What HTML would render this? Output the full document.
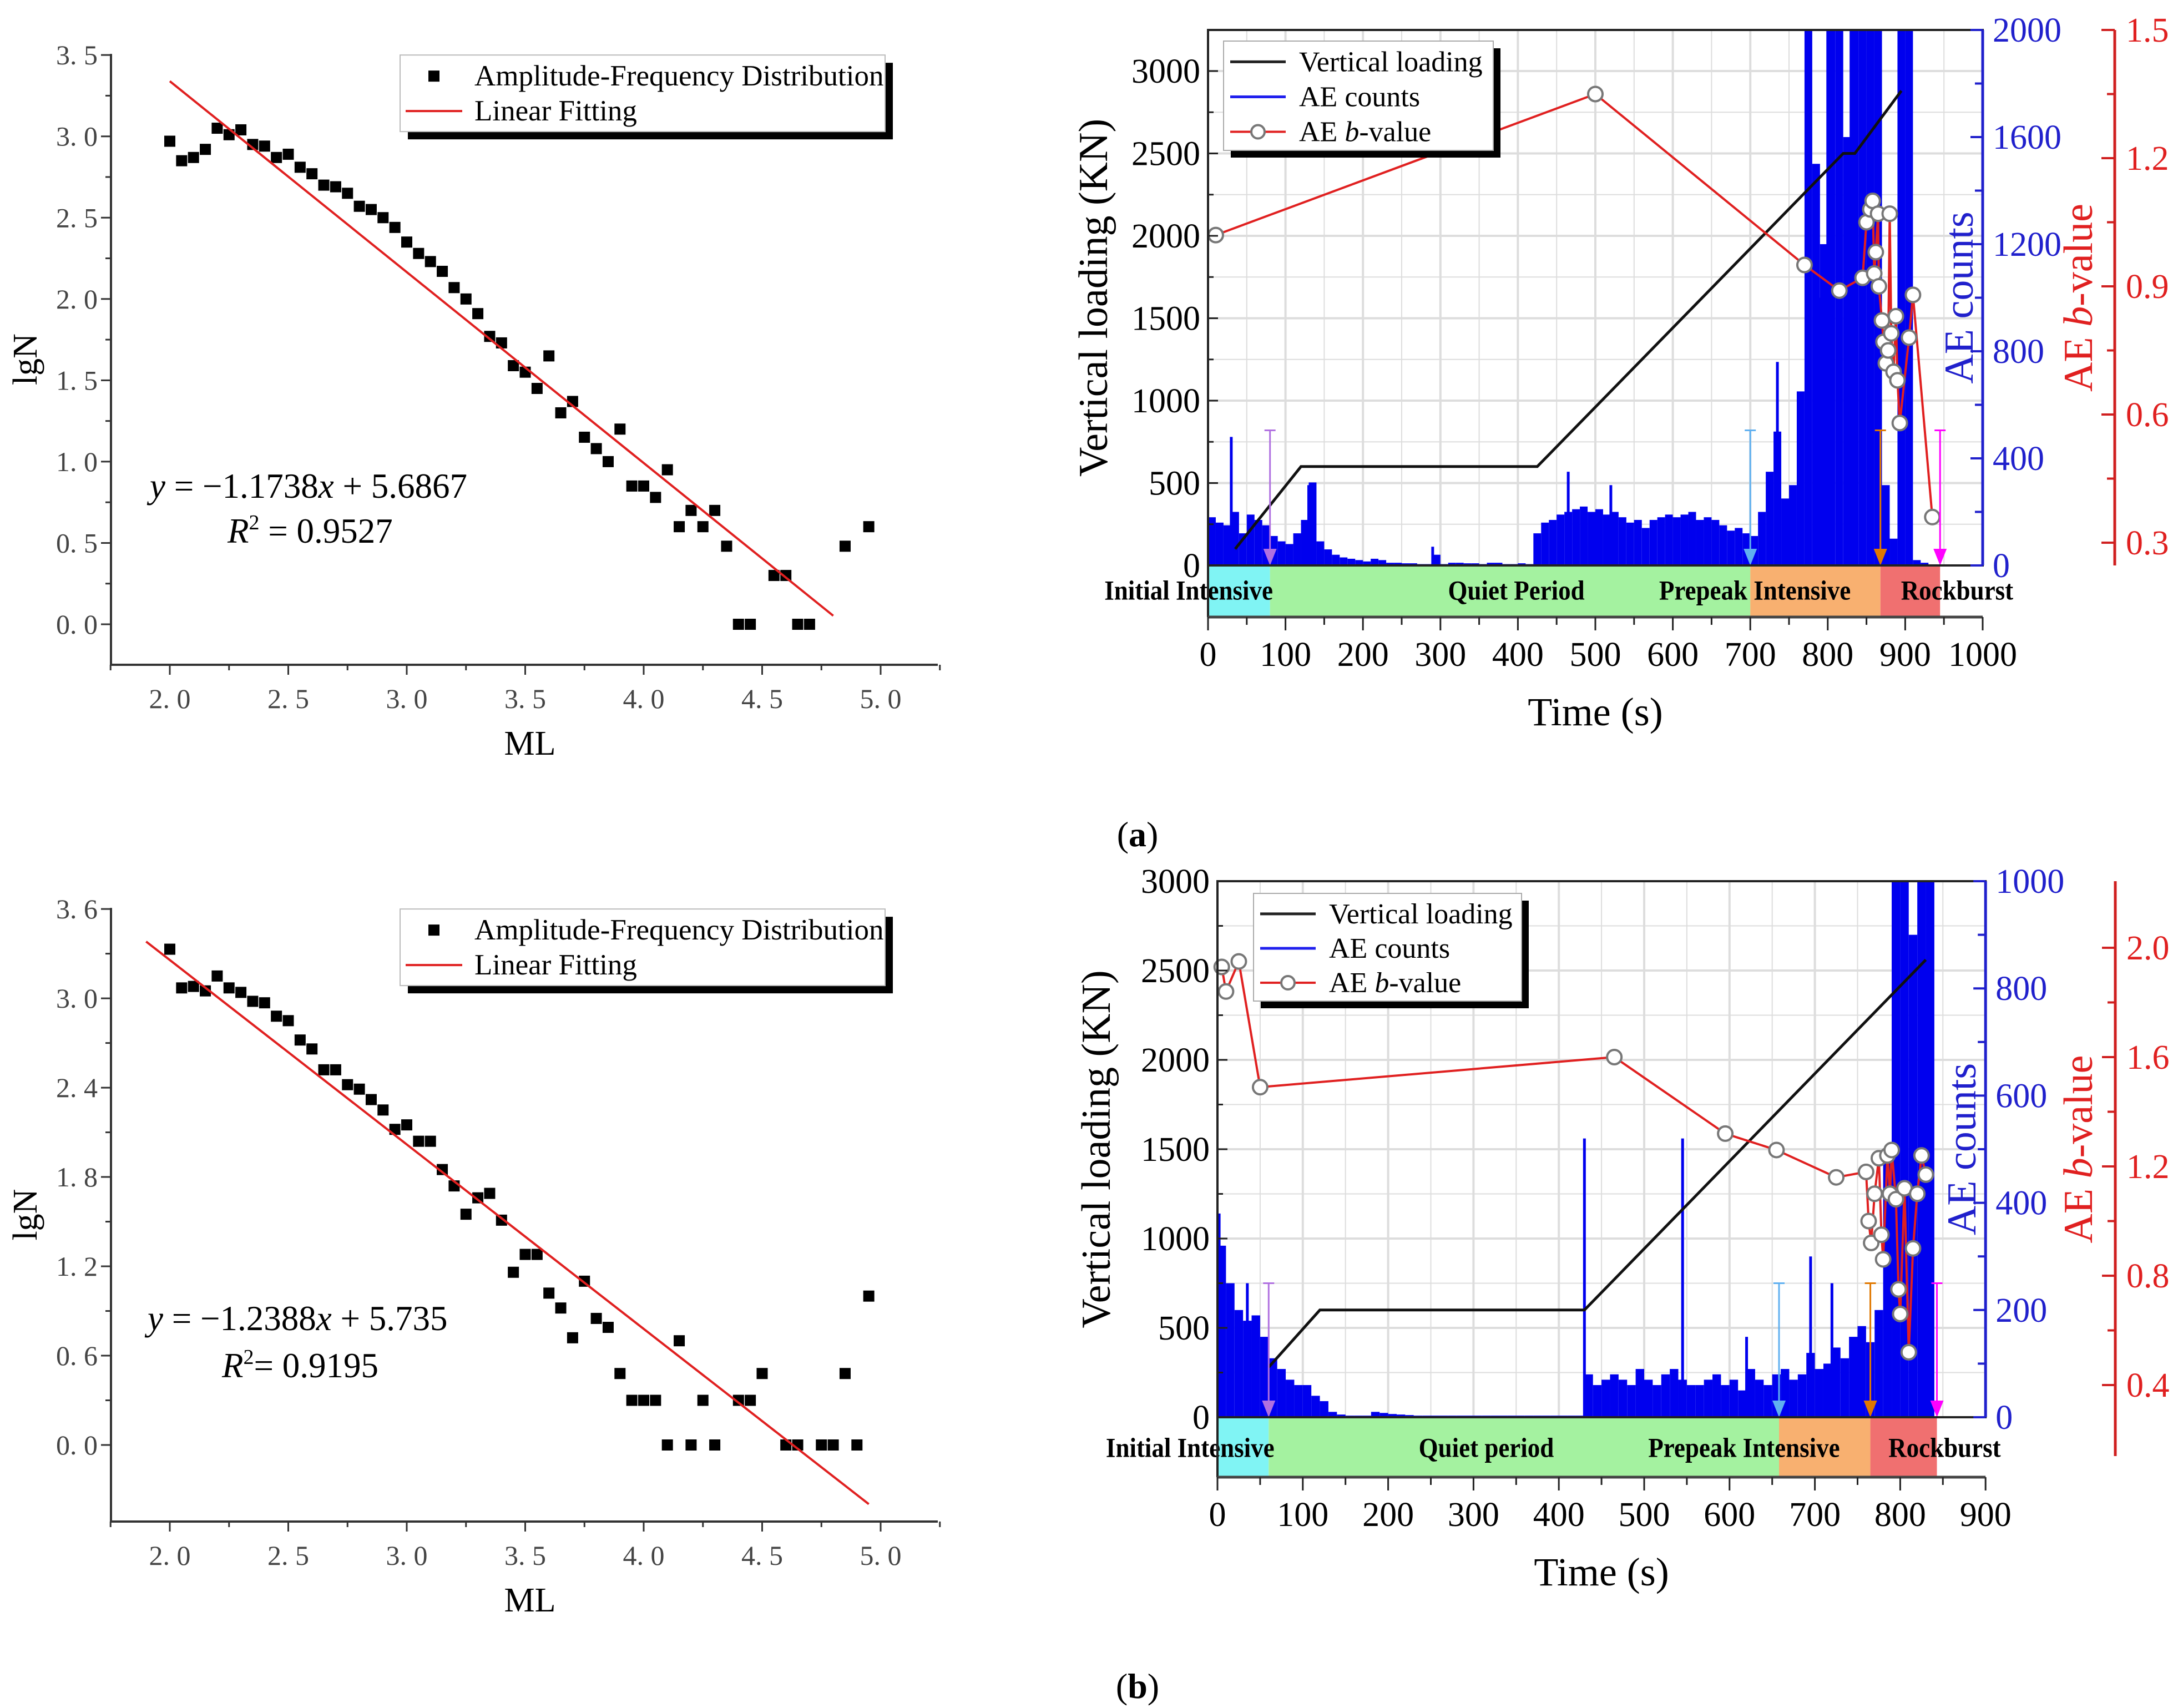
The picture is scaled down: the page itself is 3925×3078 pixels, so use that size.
<!DOCTYPE html>
<html><head><meta charset="utf-8"><style>
html,body{margin:0;padding:0;background:#fff}
svg{display:block}
text{font-family:"Liberation Serif",serif}
</style></head><body>
<svg id="s" xmlns="http://www.w3.org/2000/svg" width="3925" height="3078" viewBox="0 0 3925 3078">
<rect width="3925" height="3078" fill="#fff"/>
<text x="2050" y="1525" font-size="64" text-anchor="middle">(<tspan font-weight="bold">a</tspan>)</text>
<text x="2050" y="3060" font-size="64" text-anchor="middle">(<tspan font-weight="bold">b</tspan>)</text>
</svg>
<script>
const NS='http://www.w3.org/2000/svg';
const svg=document.getElementById('s');
// ---- data ----
const mlA=[2.00,2.05,2.10,2.15,2.20,2.25,2.30,2.35,2.40,2.45,2.50,2.55,2.60,2.65,2.70,2.75,2.80,2.85,2.90,2.95,3.00,3.05,3.10,3.15,3.20,3.25,3.30,3.35,3.40,3.45,3.50,3.55,3.60,3.65,3.70,3.75,3.80,3.85,3.90,3.95,4.00,4.05,4.10,4.15,4.20,4.25,4.30,4.35,4.40,4.45,4.55,4.60,4.65,4.70,4.85,4.95];
const lgA=[2.97,2.85,2.87,2.92,3.05,3.01,3.04,2.95,2.94,2.87,2.89,2.81,2.77,2.70,2.69,2.65,2.57,2.55,2.50,2.44,2.35,2.28,2.23,2.17,2.07,2.00,1.91,1.77,1.73,1.59,1.55,1.45,1.65,1.30,1.37,1.15,1.08,1.00,1.20,0.85,0.85,0.78,0.95,0.60,0.70,0.60,0.70,0.48,0,0,0.30,0.30,0,0,0.48,0.60];
const fitA=[-1.1738,5.6867,2.0,4.8];
const mlB=[2.00,2.05,2.10,2.15,2.20,2.25,2.30,2.35,2.40,2.45,2.50,2.55,2.60,2.65,2.70,2.75,2.80,2.85,2.90,2.95,3.00,3.05,3.10,3.15,3.20,3.25,3.30,3.35,3.40,3.45,3.50,3.55,3.60,3.65,3.70,3.75,3.80,3.85,3.90,3.95,4.00,4.05,4.10,4.15,4.20,4.25,4.30,4.40,4.45,4.50,4.60,4.65,4.75,4.80,4.85,4.90,4.95];
const lgB=[3.33,3.07,3.08,3.05,3.15,3.07,3.04,2.98,2.97,2.88,2.85,2.72,2.66,2.52,2.52,2.42,2.39,2.32,2.25,2.12,2.15,2.04,2.04,1.85,1.74,1.55,1.66,1.69,1.51,1.16,1.28,1.28,1.02,0.92,0.72,1.10,0.85,0.79,0.48,0.30,0.30,0.30,0,0.70,0,0.30,0,0.30,0.30,0.48,0,0,0,0,0.48,0,1.00];
const fitB=[-1.2388,5.735,1.9,4.95];
// chart (a) time series
const countsA=[180,160,150,200,120,190,170,150,110,90,80,120,170,310,90,60,40,30,25,20,15,25,20,10,10,8,8,5,5,40,5,10,10,8,8,5,10,10,5,5,8,5,120,160,170,190,200,210,220,200,210,190,200,180,160,170,140,170,180,190,180,190,200,170,180,170,150,130,140,120,110,200,350,500,250,300,650,2100,1500,1200,2100,2100,1600,2100,2100,2100,2100,300,100,2100,2100,20,10,0,0];
const spikeTA=[30,130,290,465,520,735,775,790,800,808,830,895];
const spikeVA=[480,300,70,350,300,760,2100,1000,2100,1300,2100,2100];
const loadTA=[35,120,425,820,835,895];
const loadVA=[100,600,600,2500,2500,2880];
const bTA=[10,500,770,815,845,850,855,858,860,862,865,866,870,872,875,878,880,882,885,888,890,893,905,910,935];
const bVA=[1.02,1.35,0.95,0.89,0.92,1.05,1.08,1.10,0.93,0.98,1.07,0.90,0.82,0.77,0.72,0.75,1.07,0.79,0.70,0.83,0.68,0.58,0.78,0.88,0.36];
const phaseA=[0,80,700,868,945];
// chart (b)
const countsB=[320,250,200,180,190,150,110,90,70,60,60,40,30,10,5,3,3,3,10,8,6,5,4,3,3,3,3,3,3,3,3,3,3,3,3,3,3,3,3,3,3,3,3,80,60,70,80,70,60,90,70,60,80,90,70,60,60,70,80,60,70,50,90,70,60,80,90,70,80,120,90,100,130,110,150,170,140,200,500,1000,1000,900,1000,1000,0,0,0];
const spikeTB=[2,5,35,430,545,620,695,720,830];
const spikeVB=[380,300,250,520,520,150,300,250,850];
const loadTB=[60,120,430,830];
const loadVB=[280,600,600,2560];
const bTB=[5,10,25,50,465,595,655,725,760,763,766,770,775,778,780,785,788,790,795,798,800,805,810,815,820,825,830];
const bVB=[1.93,1.84,1.95,1.49,1.60,1.32,1.26,1.16,1.18,1.00,0.92,1.10,1.23,0.95,0.86,1.24,1.10,1.26,1.08,0.75,0.66,1.12,0.52,0.90,1.10,1.24,1.17];
const phaseB=[0,60,658,765,843];

function E(tag,a,p){const e=document.createElementNS(NS,tag);for(const k in a)e.setAttribute(k,a[k]);(p||svg).appendChild(e);return e;}
function T(x,y,s,a,p){const e=E('text',Object.assign({x:x,y:y},a),p);e.textContent=s;return e;}

// ---------- scatter charts ----------
function scatter(id,top0,yMax,yStep,yUnit,yBottom,ml,lg,fit,eq,r2){
  const g=E('g',{});
  
  
  const X=v=>306+(v-2)*427;
  const Y=v=>top0-v*yUnit;
  const axTop=Y(yMax)-2;
  const ax=E('path',{d:`M200 ${axTop} V${yBottom} H1690`,stroke:'#333',fill:'none','stroke-width':4},g);
  
  
  for(let v=0;v<=yMax+1e-6;v+=yStep/2){
    const maj=Math.abs(Math.round(v/yStep)*yStep-v)<1e-6;
    E('line',{x1:200,x2:maj?182:190,y1:Y(v),y2:Y(v),stroke:'#333','stroke-width':3},g);
    if(maj){const t=T(176,Y(v)+17,v.toFixed(1).replace('.','. '),{'font-size':50,'text-anchor':'end',fill:'#444'},g);
      
      }
  }
  for(let v=1.75;v<=5.26;v+=0.25){
    const maj=Math.abs(v*2-Math.round(v*2))<1e-6;
    E('line',{x1:X(v),x2:X(v),y1:yBottom,y2:yBottom+(maj?18:10),stroke:'#333','stroke-width':3},g);
    if(maj&&v>=2){const t=T(X(v),yBottom+78,v.toFixed(1).replace('.','. '),{'font-size':50,'text-anchor':'middle',fill:'#444'},g);
      
      }
  }
  const xt=T(955,yBottom+162,'ML',{'font-size':62,'text-anchor':'middle'},g);
  
  
  const yt=T(0,0,'lgN',{'font-size':62,'text-anchor':'middle',transform:`translate(66 ${(axTop+yBottom)/2}) rotate(-90)`},g);
  
  
  for(let i=0;i<ml.length;i++){
    const r=E('rect',{x:X(ml[i])-10,y:Y(lg[i])-10,width:20,height:20,fill:'#000'},g);
    
    
  }
  const fl=E('line',{x1:X(fit[2]),y1:Y(fit[0]*fit[2]+fit[1]),x2:X(fit[3]),y2:Y(fit[0]*fit[3]+fit[1]),stroke:'#e02020','stroke-width':4},g);
  
  
  const ly=Y(yMax);
  E('rect',{x:735,y:ly+14,width:874,height:138,fill:'#000'},g);
  const lb=E('rect',{x:721,y:ly,width:874,height:138,fill:'#fff',stroke:'#bbb','stroke-width':2},g);
  
  
  E('rect',{x:772,y:ly+28,width:20,height:20,fill:'#000'},g);
  const l1=T(855,ly+55,'Amplitude-Frequency Distribution',{'font-size':53},g);
  
  
  E('line',{x1:731,x2:833,y1:ly+101,y2:ly+101,stroke:'#e02020','stroke-width':4},g);
  const l2=T(855,ly+118,'Linear Fitting',{'font-size':53},g);
  
  
  const e1=E('text',{x:eq[0],y:eq[1],'font-size':63},g);
  e1.innerHTML=eq[2];
  
  
  const e2=E('text',{x:r2[0],y:r2[1],'font-size':63},g);
  e2.innerHTML=r2[2];
  
  
}
scatter('scatter-a',1125,3.5,0.5,293.1,1198,mlA,lgA,fitA,[270,897,'<tspan font-style="italic">y</tspan> = −1.1738<tspan font-style="italic">x</tspan> + 5.6867'],[410,978,'<tspan font-style="italic">R</tspan><tspan font-size="38" dy="-24">2</tspan><tspan dy="24"> = 0.9527</tspan>']);
scatter('scatter-b',2604,3.6,0.6,268.3,2742,mlB,lgB,fitB,[266,2397,'<tspan font-style="italic">y</tspan> = −1.2388<tspan font-style="italic">x</tspan> + 5.735'],[400,2482,'<tspan font-style="italic">R</tspan><tspan font-size="38" dy="-24">2</tspan><tspan dy="24">= 0.9195</tspan>']);

// ---------- time-series charts ----------
function series(c){
  const g=E('g',{});
  
  
  const X=t=>c.x0+t*c.xs;
  const YL=v=>c.y0-v*c.ls;
  const YC=v=>c.y0-v*c.cs;
  const YB=v=>c.ry+(c.rmax-v)*c.rs;
  const xr=X(c.tmax);
  for(let t=50;t<c.tmax;t+=50)E('line',{x1:X(t),x2:X(t),y1:c.top,y2:c.y0,stroke:'#ddd','stroke-width':(t%100?2:4)},g);
  for(let v=250;YL(v)>c.top;v+=250)E('line',{x1:c.x0,x2:xr,y1:YL(v),y2:YL(v),stroke:'#ddd','stroke-width':(v%500?2:4)},g);
  const clip=E('clipPath',{id:c.id+'clip'},g);E('rect',{x:c.x0,y:c.top,width:xr-c.x0,height:c.y0-c.top},clip);
  const pg=E('g',{'clip-path':`url(#${c.id}clip)`},g);
  for(let i=0;i<c.counts.length;i++){
    const r=E('rect',{x:X(i*10),y:YC(c.counts[i]),width:10*c.xs,height:c.counts[i]*c.cs,fill:'#0000ee'},pg);
    
    
  }
  for(let i=0;i<c.spT.length;i++){
    const l=E('line',{x1:X(c.spT[i]),x2:X(c.spT[i]),y1:c.y0,y2:YC(c.spV[i]),stroke:'#0000ee','stroke-width':5},pg);
    
    
  }
  const lp=E('polyline',{points:c.lT.map((t,i)=>X(t)+','+YL(c.lV[i])).join(' '),fill:'none',stroke:'#111','stroke-width':5},pg);
  
  
  const bp=E('polyline',{points:c.bT.map((t,i)=>X(t)+','+YB(c.bV[i])).join(' '),fill:'none',stroke:'#e02020','stroke-width':4},pg);
  
  
  for(let i=0;i<c.bT.length;i++){
    const m=E('circle',{cx:X(c.bT[i]),cy:YB(c.bV[i]),r:13,fill:'#fff',stroke:'#777','stroke-width':4},g);
    
    
  }
  const cols=['#80f4f4','#a4f2a0','#f8b070','#f07070'];
  for(let i=0;i<4;i++){
    const r=E('rect',{x:X(c.ph[i]),y:c.y0,width:X(c.ph[i+1])-X(c.ph[i]),height:c.band-c.y0,fill:cols[i]},g);
    
    
  }
  const acol=['#b070e0','#60b0f0','#e07800','#ff00ff'];
  for(let i=1;i<5;i++){
    const x=X(c.ph[i]);
    E('line',{x1:x,x2:x,y1:YL(c.arrV),y2:c.y0-10,stroke:acol[i-1],'stroke-width':3},g);
    E('line',{x1:x-10,x2:x+10,y1:YL(c.arrV),y2:YL(c.arrV),stroke:acol[i-1],'stroke-width':3},g);
    const a=E('path',{d:`M${x-12} ${c.y0-30} L${x+12} ${c.y0-30} L${x} ${c.y0} Z`,fill:acol[i-1]},g);
    
    
  }
  c.plab.forEach((p,i)=>{const t=T(X(p[1]),c.y0+(c.band-c.y0)*0.66,p[0],{'font-size':50,'font-weight':'bold','text-anchor':'middle',transform:`translate(${X(p[1])} 0) scale(0.9 1) translate(${-X(p[1])} 0)`},g);
    
    });
  E('rect',{x:c.x0,y:c.top,width:xr-c.x0,height:c.y0-c.top,fill:'none',stroke:'#222','stroke-width':4},g);
  E('line',{x1:c.x0,x2:c.x0,y1:c.y0,y2:c.band,stroke:'#222','stroke-width':4},g);
  E('line',{x1:c.x0,x2:xr,y1:c.band,y2:c.band,stroke:'#444','stroke-width':5},g);
  for(let t=0;t<=c.tmax;t+=50){
    E('line',{x1:X(t),x2:X(t),y1:c.band,y2:c.band+(t%100?14:24),stroke:'#222','stroke-width':3},g);
    if(t%100===0){const l=T(X(t),c.band+88,String(t),{'font-size':62,'text-anchor':'middle'},g);
      
      }
  }
  for(let v=0;v<=c.lmax;v+=250){
    E('line',{x1:c.x0,x2:c.x0+(v%500?10:18),y1:YL(v),y2:YL(v),stroke:'#222','stroke-width':3},g);
    if(v%500===0){const l=T(c.x0-14,YL(v)+21,String(v),{'font-size':62,'text-anchor':'end'},g);
      
      }
  }
  E('line',{x1:xr,x2:xr,y1:c.top,y2:c.y0,stroke:'#2020cc','stroke-width':5},g);
  for(let v=0;v<=c.cmax;v+=c.cstep/2){
    E('line',{x1:xr,x2:xr-(v%c.cstep?14:22),y1:YC(v),y2:YC(v),stroke:'#2020cc','stroke-width':4},g);
    if(v%c.cstep===0){const l=T(xr+18,YC(v)+21,String(v),{'font-size':62,fill:'#2020cc'},g);
      
      }
  }
  const rx=c.rx;
  E('line',{x1:rx,x2:rx,y1:c.rTop,y2:c.rBot,stroke:'#d02020','stroke-width':5},g);
  for(let k=0;k<c.rticks.length;k++){
    const v=c.rticks[k];
    E('line',{x1:rx,x2:rx-24,y1:YB(v),y2:YB(v),stroke:'#d02020','stroke-width':4},g);
    if(k<c.rticks.length-1)E('line',{x1:rx,x2:rx-14,y1:(YB(v)+YB(c.rticks[k+1]))/2,y2:(YB(v)+YB(c.rticks[k+1]))/2,stroke:'#d02020','stroke-width':4},g);
    const l=T(rx+20,YB(v)+21,v.toFixed(1),{'font-size':62,fill:'#e02020'},g);
    
    
  }
  const my=(c.top+c.y0)/2;
  const t1=T(0,0,'Vertical loading (KN)',{'font-size':74,'text-anchor':'middle',transform:`translate(${c.ltx} ${my}) rotate(-90)`},g);
  
  
  const t2=T(0,0,'AE counts',{'font-size':74,'text-anchor':'middle',fill:'#2020cc',transform:`translate(${c.ctx} ${my}) rotate(-90)`},g);
  
  
  const t3=E('text',{x:0,y:0,'font-size':74,'text-anchor':'middle',fill:'#e02020',transform:`translate(${c.btx} ${my}) rotate(-90)`},g);
  t3.innerHTML='AE <tspan font-style="italic">b</tspan>-value';
  
  
  const t4=T((c.x0+xr)/2,c.band+195,'Time (s)',{'font-size':72,'text-anchor':'middle'},g);
  
  
  const L=c.leg;
  E('rect',{x:L[0]+13,y:L[1]+13,width:L[2],height:L[3],fill:'#000'},g);
  const lb=E('rect',{x:L[0],y:L[1],width:L[2],height:L[3],fill:'#fff',stroke:'#aaa','stroke-width':2},g);
  
  
  const ys=[L[1]+L[3]*0.19,L[1]+L[3]*0.51,L[1]+L[3]*0.83];
  E('line',{x1:L[0]+12,x2:L[0]+112,y1:ys[0],y2:ys[0],stroke:'#222','stroke-width':5},g);
  E('line',{x1:L[0]+12,x2:L[0]+112,y1:ys[1],y2:ys[1],stroke:'#2020ee','stroke-width':5},g);
  E('line',{x1:L[0]+12,x2:L[0]+112,y1:ys[2],y2:ys[2],stroke:'#e02020','stroke-width':4},g);
  E('circle',{cx:L[0]+62,cy:ys[2],r:12,fill:'#fff',stroke:'#777','stroke-width':4},g);
  const n1=T(L[0]+136,ys[0]+17,'Vertical loading',{'font-size':52},g);
  
  
  const n2=T(L[0]+136,ys[1]+17,'AE counts',{'font-size':52},g);
  
  
  const n3=E('text',{x:L[0]+136,y:ys[2]+17,'font-size':52},g);
  n3.innerHTML='AE <tspan font-style="italic">b</tspan>-value';
  
  
}
series({id:'timeseries-a',x0:2177,xs:1.396,tmax:1000,top:54,y0:1019,band:1112,ls:0.297,lmax:3000,cs:0.4825,cmax:2000,cstep:400,
  ry:54,rmax:1.5,rs:770,rx:3811,rTop:54,rBot:1019,rticks:[1.5,1.2,0.9,0.6,0.3],
  counts:countsA,spT:spikeTA,spV:spikeVA,lT:loadTA,lV:loadVA,bT:bTA,bV:bVA,ph:phaseA,arrV:820,
  plab:[['Initial Intensive',-25],['Quiet Period',398],['Prepeak Intensive',706],['Rockburst',967]],
  ltx:1995,ctx:3555,btx:3770,leg:[2205,74,486,197]});
series({id:'timeseries-b',x0:2194,xs:1.538,tmax:900,top:1588,y0:2554,band:2662,ls:0.322,lmax:3000,cs:0.966,cmax:1000,cstep:200,
  ry:1708,rmax:2.0,rs:492.5,rx:3812,rTop:1588,rBot:2624,rticks:[2.0,1.6,1.2,0.8,0.4],
  counts:countsB,spT:spikeTB,spV:spikeVB,lT:loadTB,lV:loadVB,bT:bTB,bV:bVB,ph:phaseB,arrV:750,
  plab:[['Initial Intensive',-32],['Quiet period',315],['Prepeak Intensive',617],['Rockburst',852]],
  ltx:2000,ctx:3560,btx:3770,leg:[2259,1610,483,194]});
</script>
</body></html>
